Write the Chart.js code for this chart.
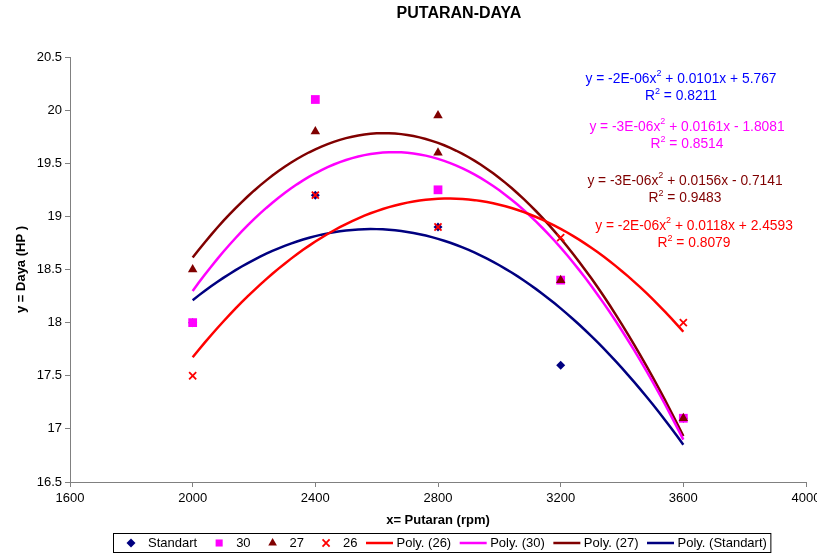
<!DOCTYPE html>
<html>
<head>
<meta charset="utf-8">
<script src="https://cdn.jsdelivr.net/npm/chart.js"></script>
<style>
  html, body { margin: 0; padding: 0; background: #fff; }
</style>
</head>
<body>
<canvas id="chart" width="817" height="554"></canvas>
<script>
const FONT = "'Liberation Sans', Arial, Helvetica, sans-serif";

// data
const rpm = [2000, 2400, 2800, 3200, 3600];
const rpm27 = [2000, 2400, 2800, 2800, 3200, 3600];
const standart = [18.0, 19.2, 18.9, 17.6, 17.1];
const seri30 = [18.0, 20.1, 19.25, 18.4, 17.1];
const seri27 = [18.5, 19.8, 19.95, 19.6, 18.4, 17.1];
const seri26 = [17.5, 19.2, 18.9, 18.8, 18.0];

const xTicks = [1600, 2000, 2400, 2800, 3200, 3600, 4000];
const yTicks = [16.5, 17, 17.5, 18, 18.5, 19, 19.5, 20, 20.5];

const eqStandart = ["y = -2E-06x^2 + 0.0101x + 5.767", "R^2 = 0.8211"];
const eq30 = ["y = -3E-06x^2 + 0.0161x - 1.8081", "R^2 = 0.8514"];
const eq27 = ["y = -3E-06x^2 + 0.0156x - 0.7141", "R^2 = 0.9483"];
const eq26 = ["y = -2E-06x^2 + 0.0118x + 2.4593", "R^2 = 0.8079"];

const NAVY = '#000080', MAGENTA = '#FF00FF', DARKRED = '#800000', RED = '#FF0000';

// 2nd order polynomial trendline (least squares), like Excel's "Poly."
function quadFit(xs, ys) {
    const n = xs.length;
    const mx = xs.reduce((s, v) => s + v, 0) / n;
    const S = [0, 0, 0, 0, 0], T = [0, 0, 0];
    xs.forEach((x, i) => {
        const u = (x - mx) / 1000;
        for (let k = 0; k < 5; k++) {
            S[k] += u ** k;
            if (k < 3) T[k] += u ** k * ys[i];
        }
    });
    const m = [[S[0], S[1], S[2], T[0]], [S[1], S[2], S[3], T[1]], [S[2], S[3], S[4], T[2]]];
    for (let c = 0; c < 3; c++) {
        for (let r = c + 1; r < 3; r++) {
            const f = m[r][c] / m[c][c];
            for (let k = c; k < 4; k++) m[r][k] -= f * m[c][k];
        }
    }
    const coef = [0, 0, 0];
    for (let r = 2; r >= 0; r--) {
        let s = m[r][3];
        for (let k = r + 1; k < 3; k++) s -= m[r][k] * coef[k];
        coef[r] = s / m[r][r];
    }
    return x => {
        const u = (x - mx) / 1000;
        return coef[0] + coef[1] * u + coef[2] * u * u;
    };
}

function trend(xs, ys) {
    const f = quadFit(xs, ys);
    const pts = [];
    for (let x = xs[0]; x <= xs[xs.length - 1]; x += 20) pts.push({x, y: f(x)});
    return pts;
}

const points = (xs, ys) => xs.map((x, i) => ({x, y: ys[i]}));

const markerSets = [
    {label: 'Standart', data: points(rpm, standart), pointStyle: 'rectRot', pointRadius: 4.5, color: NAVY, bw: 0, order: 3},
    {label: '30', data: points(rpm, seri30), pointStyle: 'rect', pointRadius: 6.2, color: MAGENTA, bw: 0, order: 2},
    {label: '27', data: points(rpm27, seri27), pointStyle: 'triangle', pointRadius: 5.5, color: DARKRED, bw: 0, order: 1},
    {label: '26', data: points(rpm, seri26), pointStyle: 'crossRot', pointRadius: 5, color: RED, bw: 1.8, order: 0},
];

const trendSets = [
    {label: 'Poly. (26)', data: trend(rpm, seri26), color: RED, order: 4},
    {label: 'Poly. (30)', data: trend(rpm, seri30), color: MAGENTA, order: 5},
    {label: 'Poly. (27)', data: trend(rpm27, seri27), color: DARKRED, order: 6},
    {label: 'Poly. (Standart)', data: trend(rpm, standart), color: NAVY, order: 7},
];

const datasets = [
    ...markerSets.map(s => ({
        label: s.label,
        data: s.data,
        showLine: false,
        pointStyle: s.pointStyle,
        pointRadius: s.pointRadius,
        pointBackgroundColor: s.color,
        pointBorderColor: s.color,
        pointBorderWidth: s.bw,
        order: s.order,
    })),
    ...trendSets.map(s => ({
        label: s.label,
        data: s.data,
        showLine: true,
        borderColor: s.color,
        borderWidth: 2.5,
        pointRadius: 0,
        tension: 0,
        order: s.order,
    })),
];

// text with a raised "2" where "^2" stands
function drawSupText(ctx, str, cx, cy, size, color) {
    const parts = str.split('^2');
    const supSize = Math.round(size * 0.68);
    const font = `${size}px ${FONT}`, supFont = `${supSize}px ${FONT}`;
    ctx.font = font;
    const widths = parts.map(p => ctx.measureText(p).width);
    ctx.font = supFont;
    const supW = ctx.measureText('2').width;
    const total = widths.reduce((a, b) => a + b, 0) + supW * (parts.length - 1);
    let x = cx - total / 2;
    ctx.fillStyle = color;
    ctx.textBaseline = 'middle';
    ctx.textAlign = 'left';
    parts.forEach((p, i) => {
        ctx.font = font;
        ctx.fillText(p, x, cy);
        x += widths[i];
        if (i < parts.length - 1) {
            ctx.font = supFont;
            ctx.fillText('2', x, cy - size * 0.38);
            x += supW;
        }
    });
}

const textPlugin = {
    id: 'texts',
    afterDraw(chart) {
        const ctx = chart.ctx;
        ctx.save();
        ctx.fillStyle = '#000';
        ctx.font = `bold 16px ${FONT}`;
        ctx.textAlign = 'center';
        ctx.textBaseline = 'middle';
        ctx.fillText('PUTARAN-DAYA', 459, 14);

        const labels = [
            [eqStandart, '#0000FF', 681, 79],
            [eq30, MAGENTA, 687, 127],
            [eq27, DARKRED, 685, 181],
            [eq26, RED, 694, 226],
        ];
        for (const [lines, color, cx, cy] of labels) {
            drawSupText(ctx, lines[0], cx, cy, 13.8, color);
            drawSupText(ctx, lines[1], cx, cy + 17.5, 13.8, color);
        }
        ctx.restore();
    }
};

const legendPlugin = {
    id: 'boxLegend',
    afterDraw(chart) {
        const ctx = chart.ctx;
        const items = [
            ...markerSets.map(s => ({label: s.label, point: s})),
            ...trendSets.map(s => ({label: s.label, line: s.color})),
        ];
        ctx.save();
        ctx.font = `13px ${FONT}`;
        const keyW = 27, gapText = 3.5, gapAfter = 8.5;
        const total = items.reduce((w, it) => w + keyW + gapText + ctx.measureText(it.label).width + gapAfter, 0) - gapAfter;
        const boxW = total + 8, boxL = Math.round(442 - boxW / 2) + 0.5;
        const boxT = 533.5, boxH = 19, cy = 543;
        ctx.strokeStyle = '#000';
        ctx.lineWidth = 1;
        ctx.strokeRect(boxL, boxT, boxW, boxH);
        let cur = boxL + 4;
        for (const it of items) {
            if (it.point) {
                const p = it.point;
                ctx.fillStyle = p.color;
                ctx.strokeStyle = p.color;
                ctx.lineWidth = p.bw;
                Chart.helpers.drawPoint(ctx, {pointStyle: p.pointStyle, radius: Math.min(p.pointRadius, 5), rotation: 0, borderWidth: p.bw}, cur + keyW / 2, cy);
            } else {
                ctx.strokeStyle = it.line;
                ctx.lineWidth = 2.5;
                ctx.beginPath();
                ctx.moveTo(cur, cy);
                ctx.lineTo(cur + keyW, cy);
                ctx.stroke();
            }
            ctx.fillStyle = '#000';
            ctx.textAlign = 'left';
            ctx.textBaseline = 'middle';
            const tx = cur + keyW + gapText;
            ctx.fillText(it.label, tx, cy);
            cur = tx + ctx.measureText(it.label).width + gapAfter;
        }
        ctx.restore();
    }
};

const axisGrey = '#808080';
const tickFont = {family: FONT, size: 13};
const titleFont = {family: FONT, size: 13, weight: 'bold'};

new Chart(document.getElementById('chart'), {
    type: 'scatter',
    data: {datasets},
    options: {
        responsive: false,
        animation: false,
        devicePixelRatio: 1,
        layout: {padding: {top: 57, right: 11, bottom: 26, left: 0}},
        plugins: {
            legend: {display: false},
            tooltip: {enabled: false},
            title: {display: false}
        },
        scales: {
            x: {
                type: 'linear',
                min: 1600,
                max: 4000,
                afterBuildTicks: s => { s.ticks = xTicks.map(v => ({value: v})); },
                afterFit: s => { s.height = 46; s.paddingLeft = 0; s.paddingRight = 0; },
                grid: {drawOnChartArea: false, drawTicks: true, tickLength: 5, color: axisGrey},
                border: {display: true, color: axisGrey, width: 1},
                ticks: {color: '#000', font: tickFont, padding: 4, maxRotation: 0, autoSkip: false, callback: v => String(v)},
                title: {display: true, text: 'x= Putaran (rpm)', color: '#000', font: titleFont, padding: {top: 0, bottom: 0}}
            },
            y: {
                type: 'linear',
                min: 16.5,
                max: 20.5,
                afterBuildTicks: s => { s.ticks = yTicks.map(v => ({value: v})); },
                afterFit: s => { s.width = 70; },
                grid: {drawOnChartArea: false, drawTicks: true, tickLength: 5, color: axisGrey},
                border: {display: true, color: axisGrey, width: 1},
                ticks: {color: '#000', font: tickFont, padding: 3, autoSkip: false, callback: v => String(v)},
                title: {display: true, text: 'y = Daya (HP )', color: '#000', font: titleFont, padding: {top: 14, bottom: 0}}
            }
        }
    },
    plugins: [textPlugin, legendPlugin]
});
</script>
</body>
</html>
